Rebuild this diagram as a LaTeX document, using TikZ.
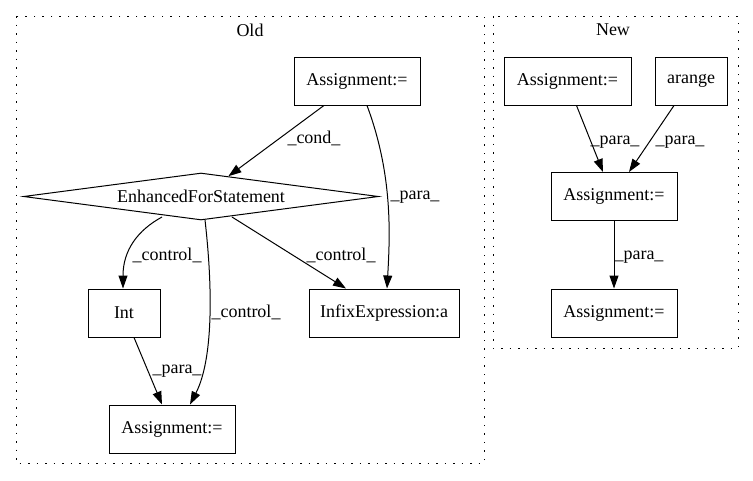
\documentclass[tikz,border=0pt]{standalone}
\usepackage{fontspec}
\setmainfont{Liberation Serif}
\usetikzlibrary{arrows.meta,shapes.geometric,calc}
\begin{document}
\begin{tikzpicture}[x=1pt,y=-1pt,
  every node/.style={font=\fontsize{18}{22}\selectfont},
  box/.style={draw,line width=1pt,inner sep=0pt,minimum height=48,minimum width=#1},
  diam/.style={draw,diamond,line width=1pt,inner sep=0pt,aspect=7.5,minimum width=355,minimum height=47},
  arr/.style={-{Triangle[length=13pt,width=9pt]},line width=1pt},
  lbl/.style={inner sep=0pt},
  cluster/.style={line width=1pt,dash pattern=on 1.5pt off 7pt}]
\useasboundingbox (0,0) rectangle (753,480);
% clusters
\draw[cluster] (16,16) rectangle (484,463);
\node (told) at (250,30) {Old};
\draw[cluster] (493,16) rectangle (738,348);
\node (tnew) at (613,30) {New};
% Old nodes
\node[box=126] (A1) at (357,81) {Assignment:=};
\node[diam] (D) at (201,196.5) {EnhancedForStatement};
\node[box=72] (I) at (124,313) {Int};
\node[box=150] (X) at (384,313) {InfixExpression:a};
\node[box=126] (B) at (172,429) {Assignment:=};
% New nodes
\node[box=127] (N1) at (567.5,81) {Assignment:=};
\node[box=72] (N2) at (691,81) {arange};
\node[box=126] (N3) at (614,196.5) {Assignment:=};
\node[box=126] (N4) at (614,313) {Assignment:=};
% Old edges
\draw[arr] (A1) -- (D);
\draw[arr] ([xshift=10]A1.south) .. controls (393,175) and (390,235) .. ([xshift=3]X.north);
\draw[arr] ($(D.center)+(-39,20.5)$) .. controls (138,230) and (123,250) .. ([xshift=-1]I.north);
\draw[arr] ($(D.center)+(4,23.5)$) .. controls (213,290) and (213,360) .. ([xshift=18]B.north);
\draw[arr] ($(D.center)+(31,20.5)$) -- ([xshift=-38]X.north);
\draw[arr] ([xshift=10]I.south) -- ([xshift=-10]B.north);
% Old labels
\node[lbl] (l1) at (314,138) {\_cond\_};
\node[lbl] (l2) at (415,197) {\_para\_};
\node[lbl] (l3) at (167,255) {\_control\_};
\node[lbl] (l4) at (341,255) {\_control\_};
\node[lbl] (l5) at (246,312) {\_control\_};
\node[lbl] (l6) at (177,371) {\_para\_};
% New edges
\draw[arr] ([xshift=9]N1.south) -- ([xshift=-11]N3.north);
\draw[arr] ([xshift=-17]N2.south) -- ([xshift=15]N3.north);
\draw[arr] (N3) -- (N4);
% New labels
\node[lbl] (l7) at (615,142) {\_para\_};
\node[lbl] (l8) at (680,142) {\_para\_};
\node[lbl] (l9) at (639,257) {\_para\_};
\end{tikzpicture}
\end{document}
